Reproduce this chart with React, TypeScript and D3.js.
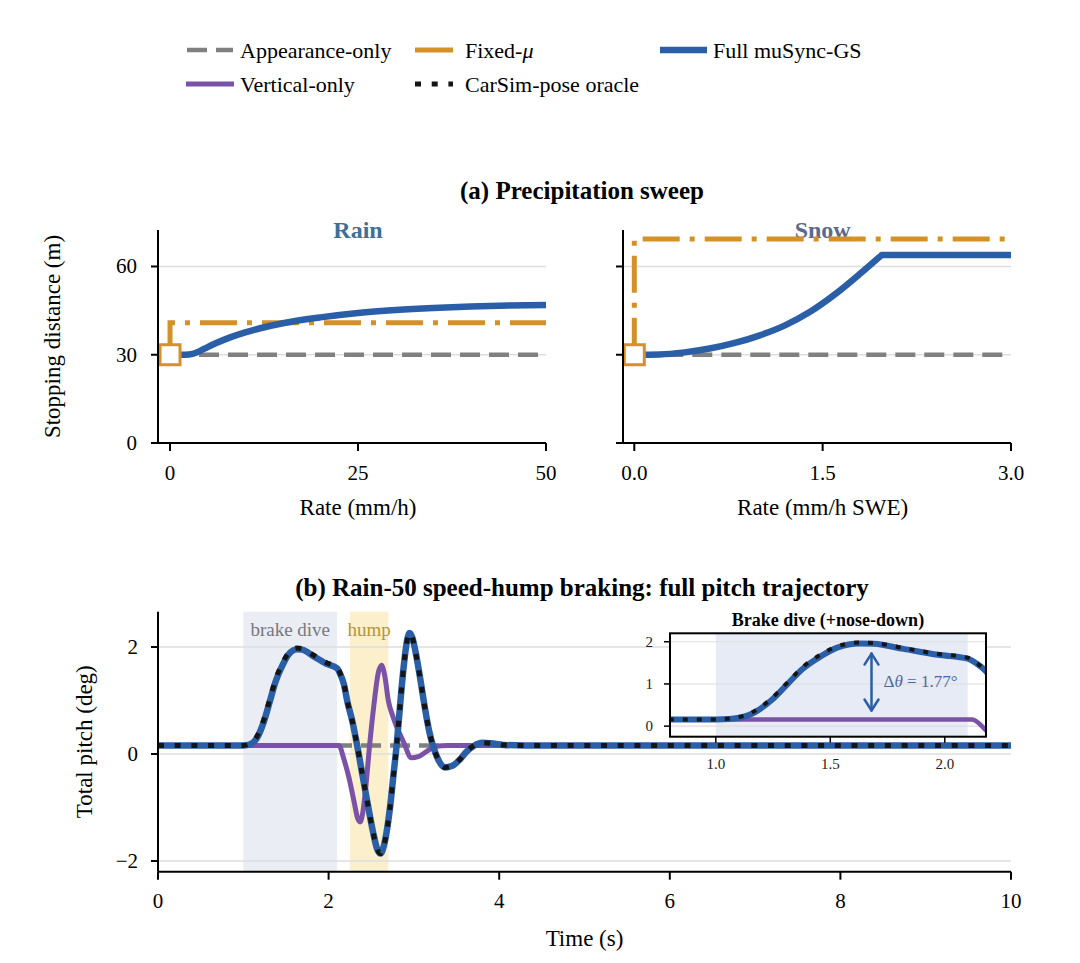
import * as d3 from "d3";

const FONT = "'Liberation Serif', 'Times New Roman', Times, serif";

const C_GRAY = "#808080";
const C_ORANGE = "#d4912a";
const C_BLUE = "#2a5ea6";
const C_PURPLE = "#7a52a8";
const C_ORACLE = "#151515";
const C_GRID = "#dedede";

// (a) rain sweep
const rainAppearRate = [0, 50];
const rainAppear = [30, 30];
const rainFixedRate = [0, 0, 50];
const rainFixed = [30, 40.9, 40.9];
const rainRate = [0, 2, 3, 4, 5, 6, 8, 10, 12, 15, 20, 25, 30, 35, 40, 45, 50];
const rainFull = [30, 30, 30.3, 31.3, 32.6, 33.8, 35.9, 37.6, 39.0, 40.7, 42.7, 44.2, 45.2, 45.9, 46.4, 46.7, 46.9];

// (a) snow sweep
const snowAppearRate = [0, 3];
const snowAppear = [30, 30];
const snowFixedRate = [0, 0, 3];
const snowFixed = [30, 69.3, 69.3];
const snowRate = [0, 0.2, 0.4, 0.6, 0.8, 1.0, 1.2, 1.4, 1.6, 1.8, 1.97, 3.0];
const snowFull = [30, 30.1, 30.8, 32.1, 34.0, 36.6, 40.0, 44.6, 50.6, 57.6, 63.9, 63.9];

const stopTicks = [0, 30, 60];
const rainTicks = [0, 25, 50];
const snowTicks = [0, 1.5, 3.0];

// (b) pitch trajectory
const pitchT = [
  0, 1.0, 1.06, 1.16, 1.24, 1.31, 1.38, 1.46, 1.53, 1.63, 1.69, 1.82, 1.97, 2.1, 2.14, 2.18, 2.22, 2.28,
  2.33, 2.4, 2.45, 2.52, 2.57, 2.61, 2.65, 2.72, 2.76, 2.8, 2.84, 2.88, 2.92, 2.95, 2.98, 3.03, 3.08,
  3.13, 3.18, 3.23, 3.29, 3.36, 3.45, 3.54, 3.62, 3.7, 3.8, 3.9, 4.05, 4.3, 10,
];
const fullPitch = [
  0.16, 0.16, 0.17, 0.3, 0.6, 0.98, 1.36, 1.66, 1.86, 1.96, 1.95, 1.83, 1.69, 1.6, 1.48, 1.3, 0.98, 0.6,
  0.2, -0.42, -0.86, -1.45, -1.78, -1.86, -1.7, -1.0, -0.4, 0.2, 0.95, 1.63, 2.12, 2.26, 2.18, 1.82, 1.35,
  0.85, 0.42, 0.12, -0.12, -0.25, -0.22, -0.1, 0.05, 0.15, 0.21, 0.2, 0.17, 0.16, 0.16,
];
const oraclePitch = [
  0.16, 0.16, 0.18, 0.33, 0.64, 1.02, 1.4, 1.7, 1.89, 1.98, 1.97, 1.85, 1.71, 1.62, 1.49, 1.31, 0.98, 0.6,
  0.2, -0.42, -0.86, -1.45, -1.78, -1.86, -1.7, -1.0, -0.4, 0.2, 0.95, 1.63, 2.12, 2.26, 2.18, 1.82, 1.35,
  0.85, 0.42, 0.12, -0.12, -0.25, -0.22, -0.1, 0.05, 0.15, 0.21, 0.2, 0.17, 0.16, 0.16,
];
const vertT = [
  0, 2.12, 2.18, 2.24, 2.3, 2.34, 2.37, 2.4, 2.44, 2.48, 2.53, 2.58, 2.62, 2.66, 2.7, 2.75, 2.8, 2.88,
  2.97, 3.05, 3.15, 3.25, 3.4, 10,
];
const vertPitch = [
  0.16, 0.16, -0.1, -0.45, -0.9, -1.2, -1.27, -1.1, -0.55, 0.15, 0.9, 1.5, 1.66, 1.45, 1.0, 0.72, 0.5, 0.22,
  -0.07, -0.05, 0.05, 0.14, 0.16, 0.16,
];
const appearT = [0, 10];
const appearPitch = [0.16, 0.16];

const brakeRegion = [1.0, 2.1];
const humpRegion = [2.25, 2.7];
const timeTicks = [0, 2, 4, 6, 8, 10];
const pitchTicks = [-2, 0, 2];
const insetXTicks = [1.0, 1.5, 2.0];
const insetYTicks = [0, 1, 2];
const diveArrow = { t: 1.68, from: 0.37, to: 1.72 };

const fmtMinus = (v: number) => (v < 0 ? `\u2212${Math.abs(v)}` : `${v}`);

function linePath(
  xs: number[],
  ys: number[],
  x: d3.ScaleLinear<number, number>,
  y: d3.ScaleLinear<number, number>,
  curve: d3.CurveFactory = d3.curveLinear
) {
  const pts = xs.map((v, i) => [v, ys[i]] as [number, number]);
  return d3.line<[number, number]>().x((d) => x(d[0])).y((d) => y(d[1])).curve(curve)(pts) ?? "";
}

// smooth rise, then a hard corner into a saturated plateau
function plateauPath(
  xs: number[],
  ys: number[],
  x: d3.ScaleLinear<number, number>,
  y: d3.ScaleLinear<number, number>
) {
  const top = d3.max(ys) ?? 0;
  const k = ys.indexOf(top);
  const rise = linePath(xs.slice(0, k + 1), ys.slice(0, k + 1), x, y, d3.curveMonotoneX);
  const rest = xs.slice(k + 1).map((v, i) => `L${x(v)},${y(ys[k + 1 + i])}`).join("");
  return rise + rest;
}

function SweepPanel({
  x,
  y,
  ticks,
  tickFmt,
  title,
  titleColor,
  xlabel,
  showYLabels,
  appear,
  fixed,
  full,
}: {
  x: d3.ScaleLinear<number, number>;
  y: d3.ScaleLinear<number, number>;
  ticks: number[];
  tickFmt: (v: number) => string;
  title: string;
  titleColor: string;
  xlabel: string;
  showYLabels: boolean;
  appear: [number[], number[]];
  fixed: [number[], number[]];
  full: [number[], number[]];
}) {
  const [x0, x1] = x.range();
  const [y0, y1] = y.range();
  const cx = (x(0) + x1) / 2;
  return (
    <g>
      {stopTicks.map((t) => (
        <line key={t} x1={x0} x2={x1} y1={y(t)} y2={y(t)} stroke={C_GRID} strokeWidth={1.3} />
      ))}
      <text x={cx} y={238} textAnchor="middle" fontSize={24} fontWeight="bold" fill={titleColor}>
        {title}
      </text>
      <path d={linePath(appear[0], appear[1], x, y)} fill="none" stroke={C_GRAY} strokeWidth={4.5} strokeDasharray="20 9" />
      <path d={linePath(fixed[0], fixed[1], x, y)} fill="none" stroke={C_ORANGE} strokeWidth={5} strokeDasharray="37 10 5 10" />
      <path d={plateauPath(full[0], full[1], x, y)} fill="none" stroke={C_BLUE} strokeWidth={6.5} strokeLinejoin="round" />
      <rect x={x(0) - 10} y={y(30) - 10} width={20} height={20} fill="#fff" stroke={C_ORANGE} strokeWidth={3} />
      {/* spines */}
      <line x1={x0} x2={x0} y1={y1} y2={y0} stroke="#000" strokeWidth={2} />
      <line x1={x0} x2={x1} y1={y0} y2={y0} stroke="#000" strokeWidth={2} />
      {stopTicks.map((t) => (
        <g key={t}>
          <line x1={x0 - 7} x2={x0} y1={y(t)} y2={y(t)} stroke="#000" strokeWidth={2} />
          {showYLabels && (
            <text x={x0 - 21} y={y(t) + 7} textAnchor="end" fontSize={21}>
              {t}
            </text>
          )}
        </g>
      ))}
      {ticks.map((t) => (
        <g key={t}>
          <line x1={x(t)} x2={x(t)} y1={y0} y2={y0 + 8} stroke="#000" strokeWidth={2} />
          <text x={x(t)} y={480} textAnchor="middle" fontSize={21}>
            {tickFmt(t)}
          </text>
        </g>
      ))}
      <text x={cx} y={515} textAnchor="middle" fontSize={23}>
        {xlabel}
      </text>
    </g>
  );
}

export default function App() {
  // panel (a)
  const yStop = d3.scaleLinear().domain([0, 72.4]).range([443, 230]);
  const xRain = d3.scaleLinear().domain([-1.6, 50]).range([158, 546]);
  const xSnow = d3.scaleLinear().domain([-0.09, 3.0]).range([623, 1011]);

  // panel (b)
  const xT = d3.scaleLinear().domain([0, 10]).range([158, 1011]);
  const yP = d3.scaleLinear().domain([-2.2, 2.66]).range([871.7, 611.7]);

  // inset
  const xI = d3.scaleLinear().domain([0.8, 2.18]).range([670, 986]);
  const yI = d3.scaleLinear().domain([-0.25, 2.2]).range([736.7, 633.3]);

  const ax = xI(diveArrow.t);
  const aTop = yI(diveArrow.to);
  const aBot = yI(diveArrow.from);

  const legendRows = [
    { x: 187, len: 46, tx: 240, y: 50, label: "Appearance-only", stroke: C_GRAY, w: 4.5, dash: "20 9" },
    { x: 415, len: 38, tx: 465, y: 50, label: "Fixed-", mu: true, stroke: C_ORANGE, w: 5, dash: "38 10" },
    { x: 660, len: 47, tx: 713, y: 50, label: "Full muSync-GS", stroke: C_BLUE, w: 6.5, dash: undefined },
    { x: 186, len: 48, tx: 240, y: 84, label: "Vertical-only", stroke: C_PURPLE, w: 5, dash: undefined },
    { x: 415, len: 38, tx: 465, y: 84, label: "CarSim-pose oracle", stroke: C_ORACLE, w: 5, dash: "6 10.7" },
  ];

  return (
    <svg
      width={1080}
      height={963}
      viewBox="0 0 1080 963"
      style={{ position: "absolute", left: 0, top: 0, background: "#fff" }}
      fontFamily={FONT}
    >
      <defs>
        <clipPath id="insetClip">
          <rect x={670} y={633.3} width={316} height={103.4} />
        </clipPath>
        <clipPath id="mainClip">
          <rect x={158} y={600} width={853} height={272} />
        </clipPath>
      </defs>
      <rect width={1080} height={963} fill="#fff" />

      {/* legend */}
      {legendRows.map((r) => (
        <g key={r.label}>
          <line x1={r.x} x2={r.x + r.len} y1={r.y} y2={r.y} stroke={r.stroke} strokeWidth={r.w} strokeDasharray={r.dash} />
          <text x={r.tx} y={r.y + 8} fontSize={22}>
            {r.label}
            {r.mu && <tspan fontStyle="italic">μ</tspan>}
          </text>
        </g>
      ))}

      {/* (a) */}
      <text x={582} y={199} textAnchor="middle" fontSize={25} fontWeight="bold">
        (a) Precipitation sweep
      </text>
      <SweepPanel
        x={xRain}
        y={yStop}
        ticks={rainTicks}
        tickFmt={(v) => `${v}`}
        title="Rain"
        titleColor="#3d6f99"
        xlabel="Rate (mm/h)"
        showYLabels
        appear={[rainAppearRate, rainAppear]}
        fixed={[rainFixedRate, rainFixed]}
        full={[rainRate, rainFull]}
      />
      <SweepPanel
        x={xSnow}
        y={yStop}
        ticks={snowTicks}
        tickFmt={(v) => v.toFixed(1)}
        title="Snow"
        titleColor="#586a8e"
        xlabel="Rate (mm/h SWE)"
        showYLabels={false}
        appear={[snowAppearRate, snowAppear]}
        fixed={[snowFixedRate, snowFixed]}
        full={[snowRate, snowFull]}
      />
      <text transform="translate(60,336.5) rotate(-90)" textAnchor="middle" fontSize={23}>
        Stopping distance (m)
      </text>

      {/* (b) */}
      <text x={582} y={596} textAnchor="middle" fontSize={25} fontWeight="bold">
        (b) Rain-50 speed-hump braking: full pitch trajectory
      </text>
      <rect x={xT(brakeRegion[0])} y={611.7} width={xT(brakeRegion[1]) - xT(brakeRegion[0])} height={260} fill="#eaedf3" />
      <rect x={xT(humpRegion[0])} y={611.7} width={xT(humpRegion[1]) - xT(humpRegion[0])} height={260} fill="#fbefcc" />
      <text x={(xT(brakeRegion[0]) + xT(brakeRegion[1])) / 2} y={636} textAnchor="middle" fontSize={19} fill="#777780">
        brake dive
      </text>
      <text x={(xT(humpRegion[0]) + xT(humpRegion[1])) / 2} y={636} textAnchor="middle" fontSize={19} fill="#b3963c">
        hump
      </text>
      {pitchTicks.map((t) => (
        <line key={t} x1={158} x2={1011} y1={yP(t)} y2={yP(t)} stroke={C_GRID} strokeWidth={1.3} />
      ))}
      <g clipPath="url(#mainClip)">
        <path d={linePath(appearT, appearPitch, xT, yP)} fill="none" stroke={C_GRAY} strokeWidth={4.5} strokeDasharray="20 9" />
        <path d={linePath(vertT, vertPitch, xT, yP, d3.curveMonotoneX)} fill="none" stroke={C_PURPLE} strokeWidth={5} strokeLinejoin="round" />
        <path d={linePath(pitchT, fullPitch, xT, yP, d3.curveMonotoneX)} fill="none" stroke={C_BLUE} strokeWidth={6.5} strokeLinejoin="round" />
        <path d={linePath(pitchT, oraclePitch, xT, yP, d3.curveMonotoneX)} fill="none" stroke={C_ORACLE} strokeWidth={5} strokeDasharray="6 10.7" />
      </g>
      <line x1={158} x2={158} y1={611.7} y2={871.7} stroke="#000" strokeWidth={2} />
      <line x1={158} x2={1011} y1={871.7} y2={871.7} stroke="#000" strokeWidth={2} />
      {pitchTicks.map((t) => (
        <g key={t}>
          <line x1={151} x2={158} y1={yP(t)} y2={yP(t)} stroke="#000" strokeWidth={2} />
          <text x={138} y={yP(t) + 7} textAnchor="end" fontSize={21}>
            {fmtMinus(t)}
          </text>
        </g>
      ))}
      {timeTicks.map((t) => (
        <g key={t}>
          <line x1={xT(t)} x2={xT(t)} y1={871.7} y2={879.7} stroke="#000" strokeWidth={2} />
          <text x={xT(t)} y={908} textAnchor="middle" fontSize={21}>
            {t}
          </text>
        </g>
      ))}
      <text x={584.5} y={946} textAnchor="middle" fontSize={23}>
        Time (s)
      </text>
      <text transform="translate(92,741.7) rotate(-90)" textAnchor="middle" fontSize={23}>
        Total pitch (deg)
      </text>

      {/* inset */}
      <text x={828} y={626} textAnchor="middle" fontSize={18} fontWeight="bold">
        Brake dive (+nose-down)
      </text>
      <rect x={670} y={633.3} width={316} height={103.4} fill="#fff" />
      <g clipPath="url(#insetClip)">
        <rect x={xI(brakeRegion[0])} y={633.3} width={xI(brakeRegion[1]) - xI(brakeRegion[0])} height={103.4} fill="#e7ebf5" />
        {insetYTicks.map((t) => (
          <line key={t} x1={670} x2={986} y1={yI(t)} y2={yI(t)} stroke={C_GRID} strokeWidth={1.1} />
        ))}
        <path d={linePath(vertT, vertPitch, xI, yI, d3.curveMonotoneX)} fill="none" stroke={C_PURPLE} strokeWidth={4.5} />
        <path d={linePath(pitchT, fullPitch, xI, yI, d3.curveMonotoneX)} fill="none" stroke={C_BLUE} strokeWidth={6} />
        <path d={linePath(pitchT, oraclePitch, xI, yI, d3.curveMonotoneX)} fill="none" stroke={C_ORACLE} strokeWidth={4} strokeDasharray="5 9" />
      </g>
      <g stroke={C_BLUE} strokeWidth={2.5} fill="none" strokeLinecap="round" strokeLinejoin="round">
        <line x1={ax} x2={ax} y1={aTop} y2={aBot} />
        <path d={`M${ax - 7},${aTop + 11} L${ax},${aTop} L${ax + 7},${aTop + 11}`} />
        <path d={`M${ax - 7},${aBot - 11} L${ax},${aBot} L${ax + 7},${aBot - 11}`} />
      </g>
      <text x={ax + 12} y={yI((diveArrow.from + diveArrow.to) / 2) + 5} fontSize={17} fill="#4a68a0">
        Δ<tspan fontStyle="italic">θ</tspan> = 1.77°
      </text>
      <rect x={670} y={633.3} width={316} height={103.4} fill="none" stroke="#000" strokeWidth={2} />
      {insetYTicks.map((t) => (
        <g key={t}>
          <line x1={664} x2={670} y1={yI(t)} y2={yI(t)} stroke="#000" strokeWidth={1.5} />
          <text x={653} y={yI(t) + 5} textAnchor="end" fontSize={15} fill="#222">
            {t}
          </text>
        </g>
      ))}
      {insetXTicks.map((t) => (
        <g key={t}>
          <line x1={xI(t)} x2={xI(t)} y1={736.7} y2={742.7} stroke="#000" strokeWidth={1.5} />
          <text x={xI(t)} y={769} textAnchor="middle" fontSize={15} fill="#222">
            {t.toFixed(1)}
          </text>
        </g>
      ))}
    </svg>
  );
}
